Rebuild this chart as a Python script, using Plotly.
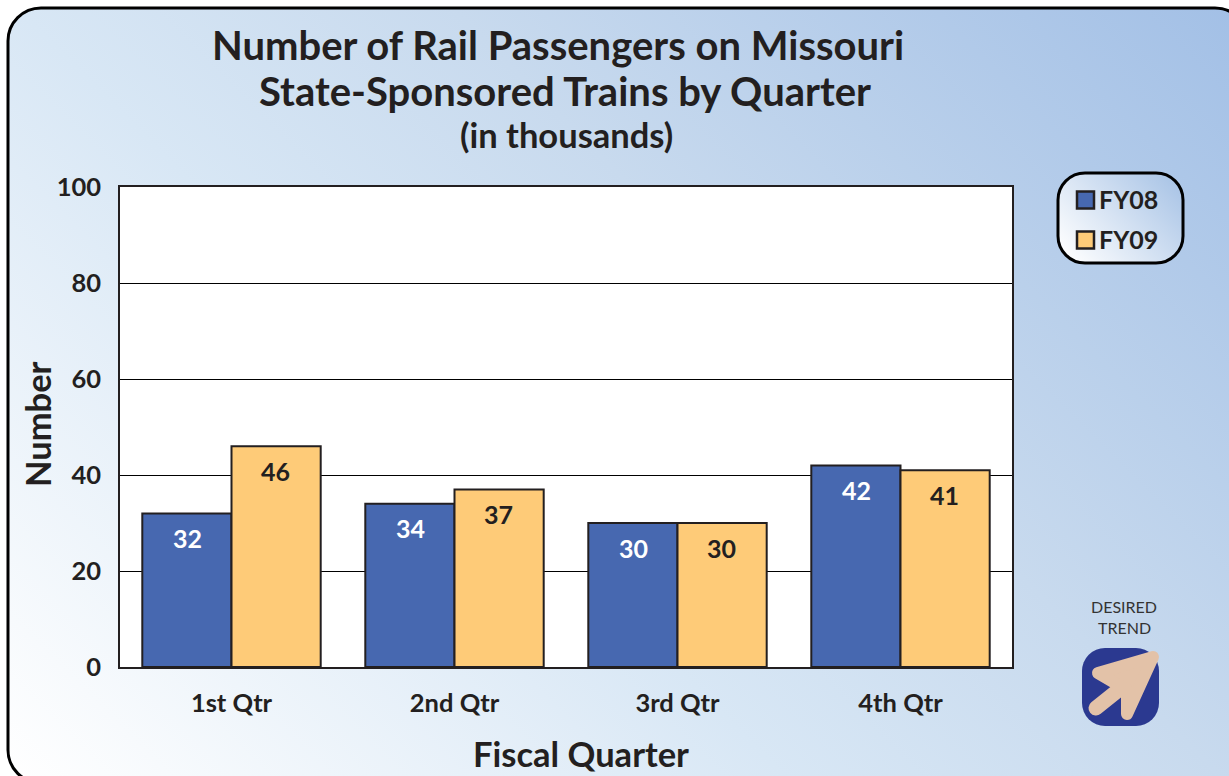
import base64
import plotly.graph_objects as go

categories = ["1st Qtr", "2nd Qtr", "3rd Qtr", "4th Qtr"]
fy08 = [32, 34, 30, 42]
fy09 = [46, 37, 30, 41]
series_names = ["FY08", "FY09"]
title_lines = ["Number of Rail Passengers on Missouri", "State-Sponsored Trains by Quarter", "(in thousands)"]
y_ticks = [0, 20, 40, 60, 80, 100]

W, H = 1229, 776
L, R, T, B = 120, 1012, 187, 667
FONT = "Lato"
INK = "#231f20"
BLUE = "#4768b0"
GOLD = "#fecb78"


def px(x):
    return (x - L) / (R - L)


def py(y):
    return (B - y) / (B - T)


svg = f'''<svg xmlns="http://www.w3.org/2000/svg" width="{W}" height="{H}" viewBox="0 0 {W} {H}">
<defs>
<linearGradient id="a" gradientUnits="userSpaceOnUse" x1="10" y1="776" x2="1002" y2="-216">
<stop offset="0" stop-color="#ffffff"/><stop offset="0.39" stop-color="#d8e7f5"/><stop offset="0.61" stop-color="#c8daee"/><stop offset="1" stop-color="#a3c0e6"/></linearGradient>
<linearGradient id="b" gradientUnits="userSpaceOnUse" x1="1070" y1="264" x2="1170" y2="172">
<stop offset="0" stop-color="#ffffff"/><stop offset="1" stop-color="#a9c4e6"/></linearGradient>
</defs>
<rect width="{W}" height="{H}" fill="#ffffff"/>
<rect x="8" y="8" width="1240" height="775" rx="33" fill="url(#a)" stroke="#000" stroke-width="3"/>
<rect x="{L}" y="{T}" width="{R - L}" height="{B - T}" fill="#ffffff"/>
<rect x="1058" y="173" width="125" height="90" rx="27" fill="url(#b)" stroke="#000" stroke-width="3"/>
<rect x="1082" y="648" width="77" height="78" rx="23" fill="#2b3990"/>
<path d="M1096 708 L1126 684" stroke="#e3c2a8" stroke-width="15" stroke-linecap="round" fill="none"/>
<path d="M1153 657 L1098 673 L1127 690 L1127 714 Z" fill="#e3c2a8" stroke="#e3c2a8" stroke-width="12" stroke-linejoin="round"/>
</svg>'''
uri = "data:image/svg+xml;base64," + base64.b64encode(svg.encode()).decode()

fig = go.Figure()
for name, vals, color in [(series_names[0], fy08, BLUE), (series_names[1], fy09, GOLD)]:
    fig.add_bar(name=name, x=categories, y=vals, marker=dict(color=color, line=dict(color=INK, width=2)),
                showlegend=False, hoverinfo="x+y+name")

ann = []
for i, cat in enumerate(categories):
    for vals, col, shift in [(fy08, "#ffffff", -44), (fy09, INK, 44)]:
        ann.append(dict(x=cat, y=vals[i], xref="x", yref="y", text=f"<b>{vals[i]}</b>", showarrow=False,
                        xshift=shift, yshift=-24.5, font=dict(family=FONT, size=25, color=col)))


def label(text, x, y, size, color=INK, bold=True, **kw):
    ann.append(dict(x=px(x), y=py(y), xref="paper", yref="paper", text=f"<b>{text}</b>" if bold else text,
                    showarrow=False, xanchor="center", yanchor="middle",
                    font=dict(family=FONT, size=size, color=color), **kw))


label(title_lines[0], 558, 45, 40)
label(title_lines[1], 565, 91, 40)
label(title_lines[2], 566, 135, 34.5)
label("Number", 37, 424, 34.5, textangle=-90)
label("Fiscal Quarter", 581, 753, 34.5)
label("DESIRED", 1124, 606, 16, color="#333333", bold=False)
label("TREND", 1124, 627, 16, color="#333333", bold=False)
label(series_names[0], 1128.5, 199, 25)
label(series_names[1], 1128.5, 239, 25)

shapes = []
for yc, col in [(200, BLUE), (240, GOLD)]:
    shapes.append(dict(type="rect", xref="paper", yref="paper", x0=px(1077), x1=px(1094), y0=py(yc - 8.5),
                       y1=py(yc + 8.5), fillcolor=col, line=dict(color=INK, width=2.5)))

tick_font = dict(family=FONT, size=25.5, color=INK, weight="bold")
fig.update_layout(
    width=W, height=H, autosize=False,
    margin=dict(l=L, r=W - R, t=T, b=H - B, pad=0),
    paper_bgcolor="#ffffff", plot_bgcolor="#ffffff",
    barmode="group", bargap=0.2, bargroupgap=0,
    font=dict(family=FONT, color=INK),
    annotations=ann, shapes=shapes,
    images=[dict(source=uri, xref="paper", yref="paper", x=-L / (R - L), y=1 + T / (B - T),
                 sizex=W / (R - L), sizey=H / (B - T), xanchor="left", yanchor="top", sizing="stretch", layer="below")],
    xaxis=dict(showgrid=False, showline=True, mirror=True, linecolor=INK, linewidth=1.5, ticks="", zeroline=False,
               tickfont=tick_font, ticklabelstandoff=13),
    yaxis=dict(range=[0, 100], tickvals=y_ticks, showgrid=True, gridcolor="#000000", gridwidth=1, showline=True,
               mirror=True, linecolor=INK, linewidth=1.5, ticks="", zeroline=False,
               tickfont=tick_font, ticklabelstandoff=12),
)
fig.write_html("out.html", config=dict(displayModeBar=False),
               post_script="document.body.style.margin='0';document.body.style.overflow='hidden';")
